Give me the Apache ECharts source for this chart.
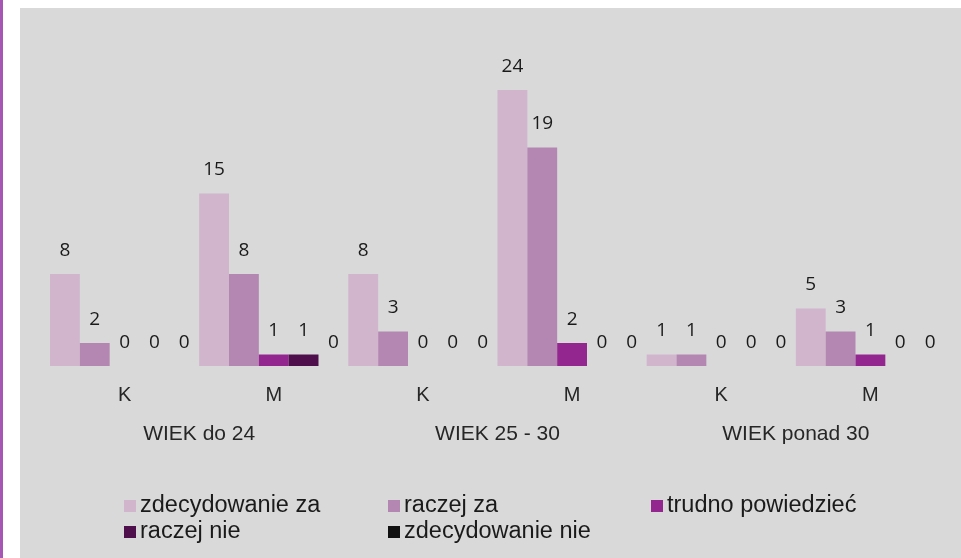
<!DOCTYPE html>
<html>
<head>
<meta charset="utf-8">
<script src="https://cdn.jsdelivr.net/npm/echarts@6/dist/echarts.min.js"></script>
<style>
html,body{margin:0;padding:0;background:#ffffff;}
#chart{width:961px;height:558px;}
</style>
</head>
<body>
<div id="chart"></div>
<script>
// --- data ---
const categories = ['K', 'M', 'K', 'M', 'K', 'M'];
const groups = ['WIEK do 24', 'WIEK 25 - 30', 'WIEK ponad 30'];
const seriesNames = ['zdecydowanie za', 'raczej za', 'trudno powiedzieć', 'raczej nie', 'zdecydowanie nie'];
const zdecydowanieZa = [8, 15, 8, 24, 1, 5];
const raczejZa = [2, 8, 3, 19, 1, 3];
const trudnoPowiedziec = [0, 1, 0, 2, 0, 1];
const raczejNie = [0, 1, 0, 0, 0, 0];
const zdecydowanieNie = [0, 0, 0, 0, 0, 0];
const seriesValues = [zdecydowanieZa, raczejZa, trudnoPowiedziec, raczejNie, zdecydowanieNie];

// --- styling ---
const colors = ['#d0b5cd', '#b487b2', '#93268f', '#4e0f4c', '#111111'];
const legendPos = [
  {left: 124, top: 494}, {left: 388, top: 494}, {left: 651, top: 494},
  {left: 124, top: 520}, {left: 388, top: 520}
];

const chart = echarts.init(document.getElementById('chart'), null, {renderer: 'canvas'});

const series = seriesNames.map((name, i) => ({
  name: name,
  type: 'bar',
  data: seriesValues[i],
  xAxisIndex: 0,
  barGap: '0%',
  barCategoryGap: '0%',
  itemStyle: {color: colors[i]},
  label: {
    show: true,
    position: 'top',
    distance: 14,
    color: '#1a1a1a',
    fontFamily: 'Open Sans',
    fontSize: 19
  },
  emphasis: {disabled: true}
}));

const legends = seriesNames.map((name, i) => ({
  data: [name],
  left: legendPos[i].left,
  top: legendPos[i].top,
  orient: 'horizontal',
  padding: 0,
  icon: 'rect',
  itemWidth: 12,
  itemHeight: 12,
  selectedMode: false,
  textStyle: {
    color: '#1a1a1a',
    fontFamily: 'Liberation Sans',
    fontSize: 23.5,
    lineHeight: 24,
    padding: [0, 0, 0, -1]
  }
}));

chart.setOption({
  backgroundColor: '#ffffff',
  animation: false,
  graphic: [
    {type: 'rect', z: -10, shape: {x: 20, y: 8, width: 941, height: 550}, style: {fill: '#d9d9d9'}, silent: true},
    {type: 'rect', z: -10, shape: {x: 0, y: 0, width: 3, height: 558}, style: {fill: '#a656b3'}, silent: true}
  ],
  grid: {left: 50, right: 16, top: 21, bottom: 192},
  legend: legends,
  xAxis: [
    {
      type: 'category',
      data: categories,
      position: 'bottom',
      axisLine: {show: false},
      axisTick: {show: false},
      axisLabel: {margin: 19, color: '#262626', fontFamily: 'Liberation Sans', fontSize: 20}
    },
    {
      type: 'category',
      data: groups,
      position: 'bottom',
      offset: 50,
      axisLine: {show: false},
      axisTick: {show: false},
      axisLabel: {margin: 8, color: '#262626', fontFamily: 'Liberation Sans', fontSize: 21}
    }
  ],
  yAxis: {
    type: 'value',
    min: 0,
    max: 30,
    show: false,
    splitLine: {show: false}
  },
  series: series
});
</script>
</body>
</html>
